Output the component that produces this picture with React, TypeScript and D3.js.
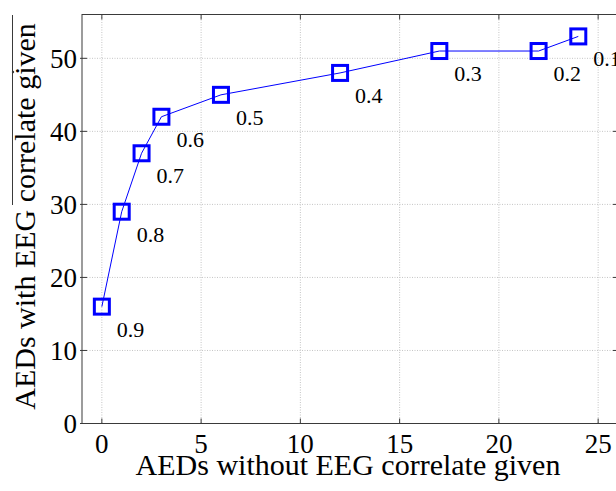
import React from "react";
import * as d3 from "d3";

const xVals = [0, 1, 2, 3, 6, 12, 17, 22, 24];
const yVals = [16, 29, 37, 42, 45, 48, 51, 51, 53];
const pointLabels = ["0.9", "0.8", "0.7", "0.6", "0.5", "0.4", "0.3", "0.2", "0.1"];
const xTicks = [0, 5, 10, 15, 20, 25];
const yTicks = [0, 10, 20, 30, 40, 50];
const xTitle = "AEDs without EEG correlate given";
const yTitle = "AEDs with EEG correlate given";

const W = 616;
const H = 491;
const FONT = "'Liberation Serif', 'Times New Roman', serif";

export default function App() {
  const x = d3.scaleLinear().domain([-1, 26]).range([82, 618]);
  const y = d3.scaleLinear().domain([0, 56]).range([423.5, 14.5]);
  const [x0, x1] = x.range();
  const [yb, yt] = y.range();
  const pts = xVals.map((v, i) => [x(v), y(yVals[i])] as [number, number]);
  const line = d3.line()(pts) || "";
  const blue = "#0000ff";
  const axisColor = "#3a3a3a";
  const grid = "#c4c4c4";
  const tickLen = 5;
  const sq = 15;

  return (
    <svg
      width={W}
      height={H}
      style={{ position: "absolute", left: 0, top: 0, background: "#fff" }}
      fontFamily={FONT}
    >
      <rect x={0} y={0} width={W} height={H} fill="#fff" />
      {/* stray neighbouring axis line */}
      <line x1={12.5} x2={12.5} y1={15} y2={205} stroke={axisColor} strokeWidth={1} />
      <circle cx={13} cy={72} r={1.2} fill={axisColor} />
      {/* grid */}
      {xTicks.map((t) => (
        <line key={"gx" + t} x1={x(t)} x2={x(t)} y1={yt} y2={yb} stroke={grid} strokeWidth={1} strokeDasharray="1 1.5" />
      ))}
      {yTicks.map((t) => (
        <line key={"gy" + t} x1={x0} x2={x1} y1={y(t)} y2={y(t)} stroke={grid} strokeWidth={1} strokeDasharray="1 1.5" />
      ))}
      {/* frame */}
      <rect x={x0} y={yt} width={x1 - x0} height={yb - yt} fill="none" stroke={axisColor} strokeWidth={1} />
      {/* ticks */}
      {xTicks.map((t) => (
        <g key={"tx" + t}>
          <line x1={x(t)} x2={x(t)} y1={yb} y2={yb - tickLen} stroke={axisColor} />
          <line x1={x(t)} x2={x(t)} y1={yt} y2={yt + tickLen} stroke={axisColor} />
          <text x={x(t)} y={453} textAnchor="middle" fontSize={27} fill="#000">
            {t}
          </text>
        </g>
      ))}
      {yTicks.map((t) => (
        <g key={"ty" + t}>
          <line x1={x0 - 2} x2={x0 + tickLen} y1={y(t)} y2={y(t)} stroke={axisColor} />
          <line x1={x1} x2={x1 - tickLen} y1={y(t)} y2={y(t)} stroke={axisColor} />
          <text x={77} y={y(t) + 9.5} textAnchor="end" fontSize={27} fill="#000">
            {t}
          </text>
        </g>
      ))}
      {/* line */}
      <path d={line} fill="none" stroke={blue} strokeWidth={1} />
      {pts.map(([px, py], i) => (
        <rect
          key={"m" + i}
          x={px - sq / 2}
          y={py - sq / 2}
          width={sq}
          height={sq}
          fill="none"
          stroke={blue}
          strokeWidth={3}
        />
      ))}
      {pts.map(([px, py], i) => (
        <text key={"l" + i} x={px + 15} y={py + 30} fontSize={22} fill="#000">
          {pointLabels[i]}
        </text>
      ))}
      {/* titles */}
      <text x={348} y={475} textAnchor="middle" fontSize={30} fill="#000">
        {xTitle}
      </text>
      <text
        transform={`translate(35, 216.5) rotate(-90)`}
        textAnchor="middle"
        fontSize={30}
        fill="#000"
      >
        {yTitle}
      </text>
    </svg>
  );
}
